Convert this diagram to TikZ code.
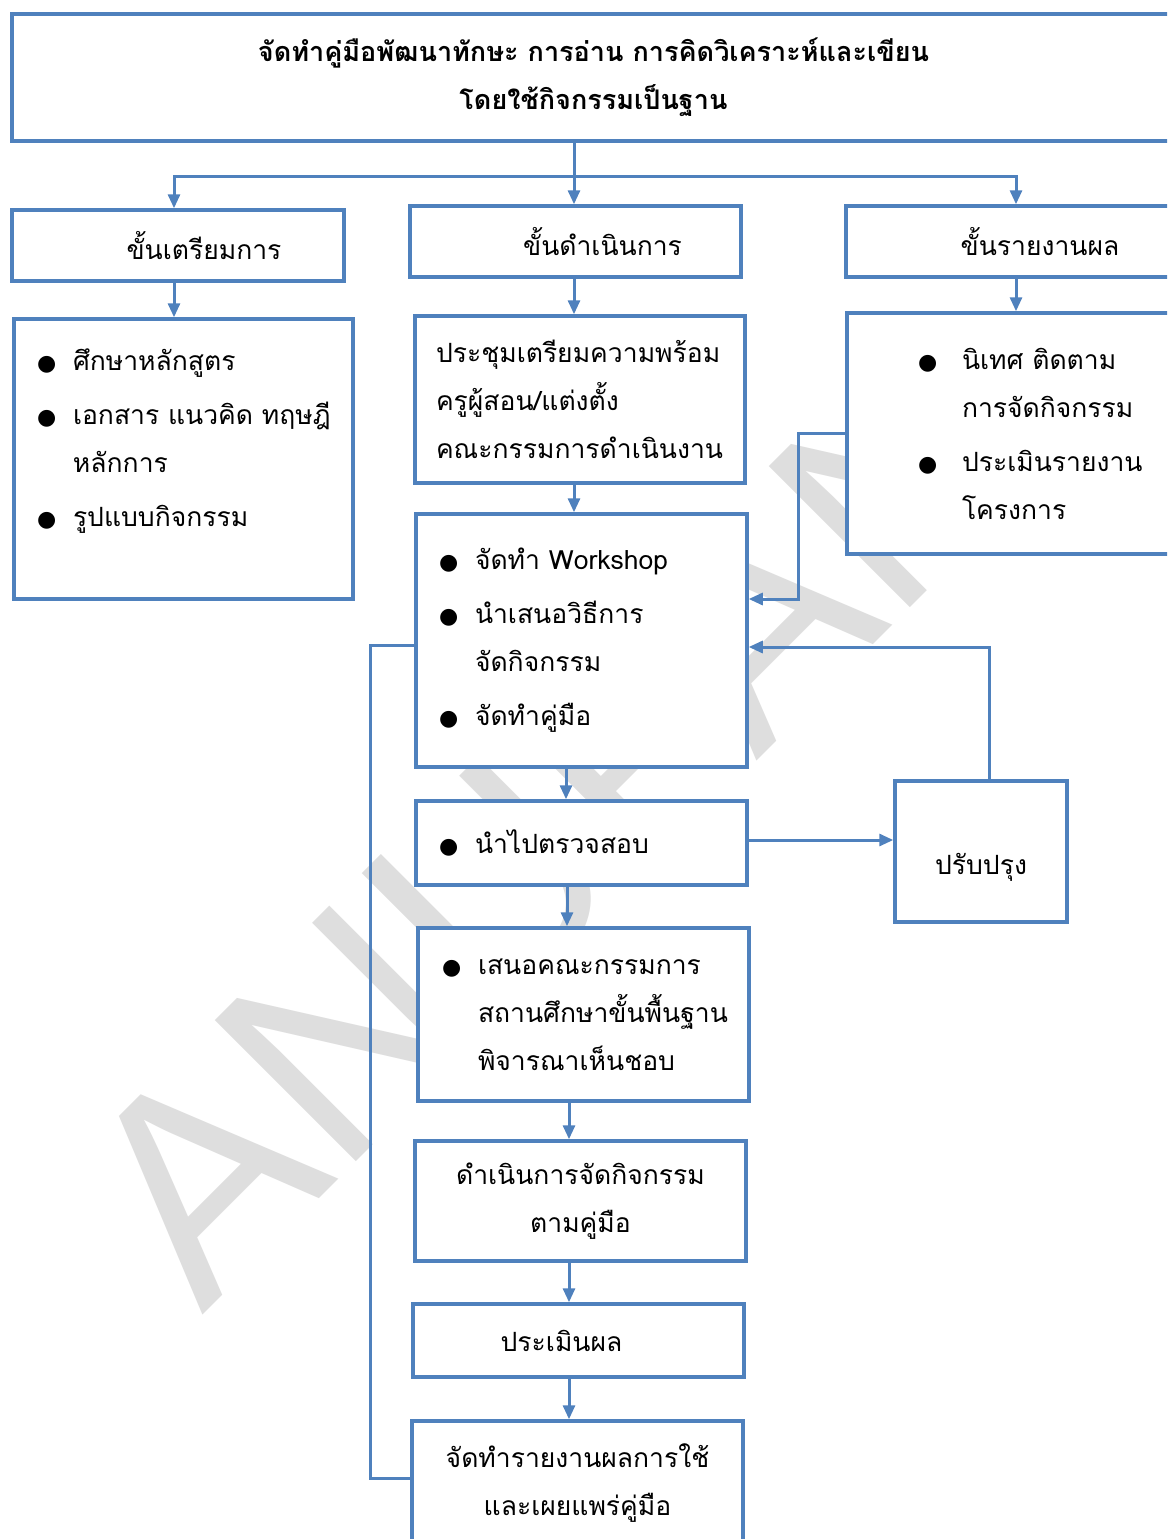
\documentclass[tikz,border=0pt]{standalone}
\usepackage{fontspec}
\setmainfont[Script=Thai]{Loma}
\newfontfamily\dotfont{DejaVu Sans}
\newfontfamily\markfont{Liberation Sans}
\usetikzlibrary{arrows.meta}
\definecolor{flowblue}{HTML}{4F81BD}
\newcommand{\itm}{\makebox[36pt][l]{\dotfont\fontsize{22}{22}\selectfont ●}}
\newcommand{\cnt}{\hspace*{36pt}}
\newcommand{\itmw}{\makebox[44pt][l]{\dotfont\fontsize{22}{22}\selectfont ●}}
\newcommand{\cntw}{\hspace*{44pt}}

\begin{document}
\begin{tikzpicture}[x=1pt, y=-1pt]
  \tikzstyle{line}=[draw=flowblue, line width=3pt]
  \tikzstyle{arrow}=[draw=flowblue, line width=3pt, -{Triangle[length=14pt, width=12pt]}]
  \tikzstyle{box}=[rectangle, draw=flowblue, line width=3.5pt, fill=white, inner sep=0pt, font=\fontsize{26.5}{48}\selectfont]
  \tikzstyle{listbox}=[box, align=left]
  \tikzstyle{watermark}=[anchor=base west, rotate=45, text=black!13, font=\markfont\fontsize{290}{290}\selectfont]

  \fill [white] (0,0) rectangle (1167,1539);
  \useasboundingbox (0,0) rectangle (1167,1539);
  \clip (0,0) rectangle (1167,1539);

  \node (mark) [watermark] at (200,1318) {ANUPAN};

  \node (title) [box, minimum width=1163, minimum height=127, align=center, font=\bfseries\fontsize{27}{48}\selectfont] at (593.5,77.5) {จัดทำคู่มือพัฒนาทักษะ การอ่าน การคิดวิเคราะห์และเขียน\\โดยใช้กิจกรรมเป็นฐาน};

  \node (prep) [box, minimum width=332, minimum height=71] at (178,245.5) {\hspace*{52pt}ขั้นเตรียมการ};
  \node (op) [box, minimum width=331, minimum height=71] at (575.5,241.5) {\hspace*{54pt}ขั้นดำเนินการ};
  \node (rep) [box, minimum width=340, minimum height=71] at (1016,241.5) {\hspace*{48pt}ขั้นรายงานผล};

  \node (prepitems) [listbox, minimum width=339, minimum height=280, text width=293, text depth=198pt] at (183.5,459) {\itm ศึกษาหลักสูตร\\[6pt]\itm เอกสาร~แนวคิด~ทฤษฎี\\\cnt หลักการ\\[6pt]\itm รูปแบบกิจกรรม};
  \node (meet) [listbox, minimum width=330, minimum height=167, text width=288] at (580,399.5) {ประชุมเตรียมความพร้อม\\ครูผู้สอน/แต่งตั้ง\\คณะกรรมการดำเนินงาน};
  \node (repitems) [listbox, minimum width=339, minimum height=241, text width=197] at (1016.5,433.5) {\itmw นิเทศ~ติดตาม\\\cntw การจัดกิจกรรม\\[6pt]\itmw ประเมินรายงาน\\\cntw โครงการ};

  \node (ws) [listbox, minimum width=331, minimum height=253, text width=285] at (581.5,640.5) {\itm จัดทำ~Workshop\\[6pt]\itm นำเสนอวิธีการ\\\cnt จัดกิจกรรม\\[6pt]\itm จัดทำคู่มือ};
  \node (check) [listbox, minimum width=331, minimum height=84, text width=285] at (581.5,843) {\itm นำไปตรวจสอบ};
  \node (improve) [box, minimum width=172, minimum height=141] at (981,851.5) {\raisebox{-23pt}[0pt][0pt]{ปรับปรุง}};
  \node (propose) [listbox, minimum width=331, minimum height=173, text width=283] at (583.5,1014.5) {\itm เสนอคณะกรรมการ\\\cnt สถานศึกษาขั้นพื้นฐาน\\\cnt พิจารณาเห็นชอบ};
  \node (do) [box, minimum width=331, minimum height=120, align=center] at (580.5,1201) {ดำเนินการจัดกิจกรรม\\ตามคู่มือ};
  \node (eval) [box, minimum width=331, minimum height=73] at (578.5,1340.5) {ประเมินผล\hspace*{34pt}};
  \node (report) [box, minimum width=331, minimum height=124, align=center] at (577.5,1483) {จัดทำรายงานผลการใช้\\และเผยแพร่คู่มือ};

  \coordinate (split) at (574,176);
  \draw [line] (title.south -| split) -- (split);
  \draw [arrow] (split) -- (split |- op.north);
  \draw [arrow] (split) -| ([xshift=-4pt]prep.north);
  \draw [arrow] (split) -| (rep.north);

  \draw [arrow] ([xshift=-4pt]prep.south) -- ([xshift=-4pt]prep.south |- prepitems.north);
  \draw [arrow] ([xshift=-1.5pt]op.south) -- ([xshift=-1.5pt]op.south |- meet.north);
  \draw [arrow] (rep.south) -- (rep.south |- repitems.north);
  \draw [arrow] ([xshift=-6pt]meet.south) -- ([xshift=-6pt]meet.south |- ws.north);
  \draw [arrow] (repitems.west) -- ++(-47,0) |- ([yshift=41.5pt]ws.east);
  \draw [arrow] ([xshift=8pt]improve.north) |- ([yshift=-6.5pt]ws.east);
  \draw [arrow] ([xshift=-15.5pt]ws.south) -- ([xshift=-15.5pt]ws.south |- check.north);
  \draw [arrow] ([yshift=3pt]check.east) -- ([yshift=3pt]check.east -| improve.west);
  \draw [arrow] ([xshift=-14.5pt]check.south) -- ([xshift=-14.5pt]check.south |- propose.north);
  \draw [arrow] ([xshift=-14.5pt]propose.south) -- ([xshift=-14.5pt]propose.south |- do.north);
  \draw [arrow] ([xshift=-11.5pt]do.south) -- ([xshift=-11.5pt]do.south |- eval.north);
  \draw [arrow] ([xshift=-9.5pt]eval.south) -- ([xshift=-9.5pt]eval.south |- report.north);
  \draw [line] ([yshift=5pt]report.west) -- ++(-40,0) |- ([yshift=-4.5pt]ws.west);
\end{tikzpicture}
\end{document}
